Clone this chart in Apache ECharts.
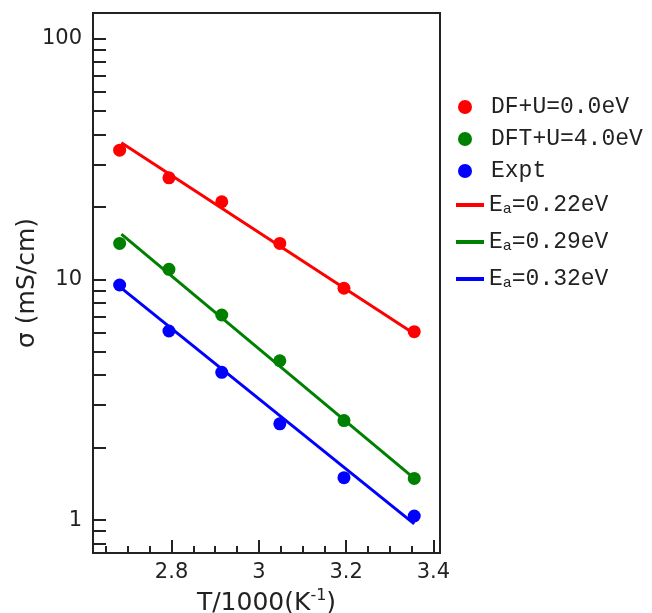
<!DOCTYPE html>
<html>
<head>
<meta charset="utf-8">
<script src="https://cdn.jsdelivr.net/npm/echarts@6/dist/echarts.min.js"></script>
<style>html,body{margin:0;padding:0;background:#fff}#c{width:652px;height:613px}</style>
</head>
<body>
<div id="c"></div>
<script>
// ---- data ----
const xValues = [2.681, 2.794, 2.915, 3.048, 3.195, 3.356];
const sigmaDFU0 = [34.4, 26.4, 21.0, 14.1, 9.18, 6.06];
const sigmaDFTU4 = [14.1, 11.0, 7.11, 4.59, 2.59, 1.49];
const sigmaExpt = [9.47, 6.1, 4.11, 2.51, 1.50, 1.04];
const fitX = [2.685, 3.356];
const fitRed = [36.9, 5.94];
const fitGreen = [15.4, 1.49];
const fitBlue = [9.2, 0.965];
const scatterNames = ['DF+U=0.0eV', 'DFT+U=4.0eV', 'Expt'];
const fitNames = ['Ea=0.22eV', 'Ea=0.29eV', 'Ea=0.32eV'];
const xLabelValues = [2.8, 3.0, 3.2, 3.4];
const xMinorTickValues = [2.65, 2.7, 2.75, 2.85, 2.9, 2.95, 3.05, 3.1, 3.15, 3.25, 3.3, 3.35];
const yLabelValues = [1, 10, 100];
const yTickValues = [0.8, 0.9, 1, 2, 3, 4, 5, 6, 7, 8, 9, 10, 20, 30, 40, 50, 60, 70, 80, 90, 100];

const colors = ['#ff0000', '#008000', '#0000ff'];
const pairs = (xs, ys) => xs.map((x, i) => [x, ys[i]]);

const chart = echarts.init(document.getElementById('c'));
const axisFont = { fontFamily: 'DejaVu Sans', fontSize: 21, color: '#222' };
const mono = 'Liberation Mono';

const option = {
  animation: false,
  backgroundColor: '#fff',
  grid: { left: 93, right: 212, top: 13, bottom: 60, outerBoundsMode: 'none', containLabel: false, show: true, borderColor: '#222', borderWidth: 2, backgroundColor: 'transparent' },
  xAxis: [
    {
      type: 'value', min: 2.62, max: 3.415, position: 'bottom',
      axisLine: { show: true, lineStyle: { color: '#222', width: 2 } },
      axisTick: { show: true, inside: true, length: 13, lineStyle: { color: '#222', width: 2 }, customValues: xLabelValues },
      axisLabel: { ...axisFont, margin: 9, customValues: xLabelValues, formatter: v => String(+v.toFixed(1)) },
      splitLine: { show: false },
      name: '{n|T/1000(K}{s|-1}{n|)}', nameLocation: 'middle', nameGap: 33,
      nameTextStyle: { rich: { n: { fontFamily: 'DejaVu Sans', fontSize: 25, color: '#222', lineHeight: 28, verticalAlign: 'bottom' }, s: { fontFamily: 'DejaVu Sans', fontSize: 16, color: '#222', lineHeight: 16, padding: [0, 0, 12, 0], verticalAlign: 'top' } } }
    },
    {
      type: 'value', min: 2.62, max: 3.415, position: 'bottom',
      axisLine: { show: false },
      axisTick: { show: true, inside: true, length: 7, lineStyle: { color: '#222', width: 2 }, customValues: xMinorTickValues },
      axisLabel: { show: false },
      splitLine: { show: false }
    }
  ],
  yAxis: {
    type: 'log', logBase: 10, min: 0.73, max: 127.7,
    axisLine: { show: true, lineStyle: { color: '#222', width: 2 } },
    axisTick: { show: true, inside: true, length: 13, lineStyle: { color: '#222', width: 2 }, customValues: yTickValues },
    axisLabel: { ...axisFont, margin: 11, customValues: yLabelValues, formatter: v => String(Math.round(v)) },
    splitLine: { show: false },
    minorTick: { show: false },
    name: 'σ (mS/cm)', nameLocation: 'middle', nameGap: 53, nameMoveOverlap: false,
    nameTextStyle: { fontFamily: 'DejaVu Sans', fontSize: 25, color: '#222' }
  },
  legend: [
    {
      data: scatterNames, orient: 'vertical', left: 453, top: 90,
      icon: 'circle', itemWidth: 42, itemHeight: 14, itemGap: 8,
      textStyle: { fontFamily: mono, fontSize: 23, color: '#222', lineHeight: 24 }
    },
    {
      data: fitNames, orient: 'vertical', left: 451, top: 184,
      icon: 'rect', itemWidth: 28, itemHeight: 4, itemGap: 9,
      formatter: name => '{n|E}{s|a}{n|' + name.slice(2) + '}',
      textStyle: {
        color: '#222',
        rich: {
          n: { fontFamily: mono, fontSize: 23, color: '#222', lineHeight: 24, verticalAlign: 'top' },
          s: { fontFamily: mono, fontSize: 15, color: '#222', lineHeight: 15, padding: [13, 0, 0, 0], verticalAlign: 'bottom' }
        }
      }
    }
  ],
  series: [
    { name: fitNames[0], type: 'line', data: pairs(fitX, fitRed), showSymbol: false, lineStyle: { color: colors[0], width: 3 }, itemStyle: { color: colors[0] } },
    { name: fitNames[1], type: 'line', data: pairs(fitX, fitGreen), showSymbol: false, lineStyle: { color: colors[1], width: 3 }, itemStyle: { color: colors[1] } },
    { name: fitNames[2], type: 'line', data: pairs(fitX, fitBlue), showSymbol: false, lineStyle: { color: colors[2], width: 3 }, itemStyle: { color: colors[2] } },
    { name: scatterNames[0], type: 'scatter', data: pairs(xValues, sigmaDFU0), symbolSize: 13, itemStyle: { color: colors[0], opacity: 1 } },
    { name: scatterNames[1], type: 'scatter', data: pairs(xValues, sigmaDFTU4), symbolSize: 13, itemStyle: { color: colors[1], opacity: 1 } },
    { name: scatterNames[2], type: 'scatter', data: pairs(xValues, sigmaExpt), symbolSize: 13, itemStyle: { color: colors[2], opacity: 1 } }
  ]
};
chart.setOption(option);
</script>
</body>
</html>
